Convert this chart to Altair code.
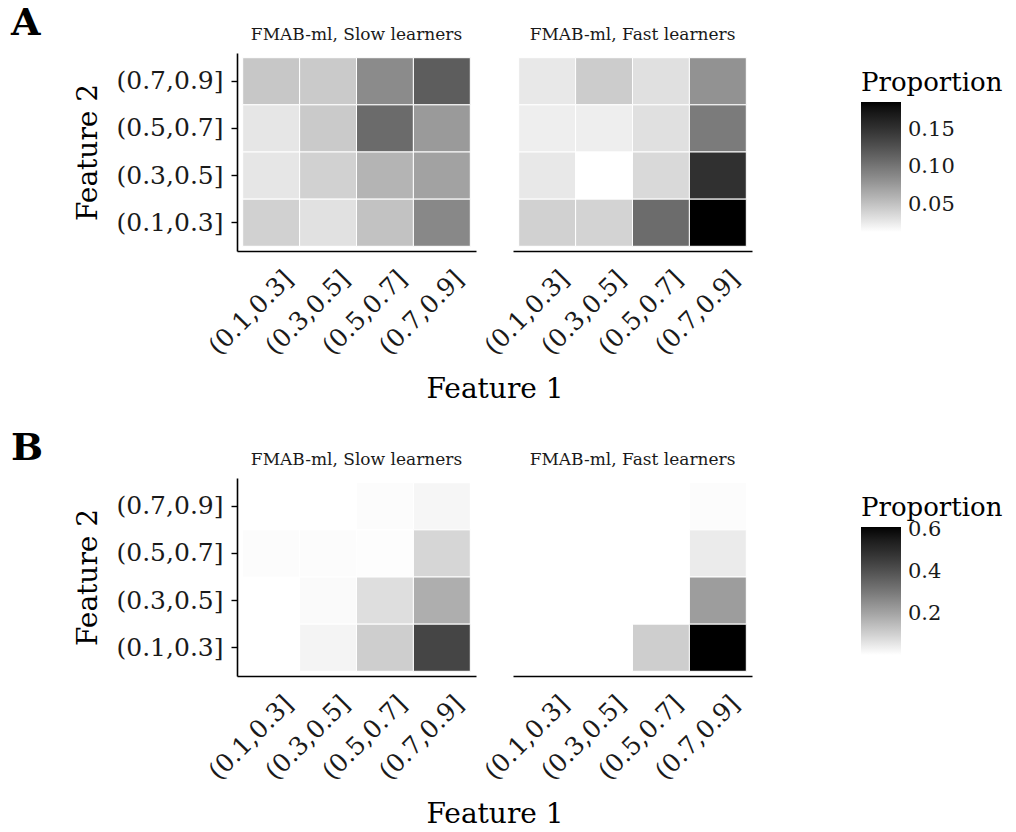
import altair as alt
import pandas as pd

FONT = "DejaVu Serif"

bins = ["(0.1,0.3]", "(0.3,0.5]", "(0.5,0.7]", "(0.7,0.9]"]
bins_top_down = ["(0.7,0.9]", "(0.5,0.7]", "(0.3,0.5]", "(0.1,0.3]"]
conditions = ["FMAB-ml, Slow learners", "FMAB-ml, Fast learners"]

# rows: Feature 2 from (0.7,0.9] (top) down to (0.1,0.3]; columns: Feature 1 bins left->right
a_slow = [
    [0.048, 0.046, 0.087, 0.119],
    [0.029, 0.046, 0.109, 0.077],
    [0.029, 0.042, 0.060, 0.072],
    [0.042, 0.032, 0.051, 0.089],
]
a_fast = [
    [0.028, 0.045, 0.033, 0.082],
    [0.024, 0.024, 0.033, 0.098],
    [0.028, 0.014, 0.037, 0.153],
    [0.042, 0.041, 0.108, 0.187],
]
b_slow = [
    [None, None, 0.011, 0.024],
    [0.011, 0.011, 0.009, 0.092],
    [None, 0.015, 0.075, 0.180],
    [None, 0.028, 0.109, 0.435],
]
b_fast = [
    [None, None, None, 0.011],
    [None, None, None, 0.047],
    [None, None, None, 0.219],
    [None, None, 0.109, 0.612],
]

a_domain = [0.014, 0.187]
b_domain = [0.005, 0.612]
a_ticks = [0.05, 0.10, 0.15]
b_ticks = [0.2, 0.4, 0.6]


def to_df(slow, fast):
    recs = []
    for cond, grid in zip(conditions, [slow, fast]):
        for i, f2 in enumerate(bins_top_down):
            for j, f1 in enumerate(bins):
                v = grid[i][j]
                if v is not None:
                    recs.append({"cond": cond, "f1": f1, "f2": f2, "p": v})
    return pd.DataFrame(recs)


def row_chart(df, label, domain, ticks, fmt, glen):
    base = alt.Chart(df).mark_rect(stroke="white", strokeWidth=1).encode(
        x=alt.X(
            "f1:N",
            scale=alt.Scale(domain=bins, paddingInner=0, paddingOuter=0.1),
            axis=alt.Axis(
                title=None, labelAngle=-45, labelAlign="right", labelBaseline="top",
                ticks=False, labelPadding=15, labelOffset=9, labelFontSize=25,
                domainColor="black", domainWidth=1.6, labelColor="#1a1a1a",
                labelFont=FONT,
            ),
        ),
        y=alt.Y(
            "f2:N",
            scale=alt.Scale(domain=bins_top_down, paddingInner=0, paddingOuter=0.1),
            axis=alt.Axis(
                title="Feature 2", titleFontSize=28, titleFontWeight="normal",
                titleFont=FONT, titlePadding=14, labelFontSize=25, labelFont=FONT,
                labelColor="#1a1a1a", tickSize=6, tickColor="black", tickWidth=1.4,
                domainColor="black", domainWidth=1.6, labelPadding=8,
            ),
        ),
        color=alt.Color(
            "p:Q",
            scale=alt.Scale(domain=domain, range=["#ffffff", "#000000"], interpolate="lab"),
            legend=alt.Legend(
                title="Proportion", titleFontSize=26, titleFontWeight="normal",
                titleFont=FONT, titleColor="black", labelFontSize=21, labelFont=FONT,
                labelColor="#1a1a1a", values=ticks, format=fmt, gradientLength=glen,
                gradientThickness=40, gradientStrokeWidth=0, orient="none",
                legendX=624, legendY=17, titlePadding=6, labelOffset=7,
            ),
        ),
    ).properties(width=239, height=198)
    return base.facet(
        column=alt.Column(
            "cond:N",
            sort=conditions,
            header=alt.Header(
                title="Feature 1", titleOrient="bottom", labelOrient="top",
                titleFontSize=28, titleFontWeight="normal", titleFont=FONT,
                titleColor="black", titlePadding=6,
                labelFontSize=17, labelFont=FONT, labelColor="#1a1a1a",
                labelPadding=9,
            ),
        ),
        spacing=37,
    ).properties(
        title=alt.TitleParams(
            text=label, anchor="start", fontSize=38, fontWeight="bold",
            font=FONT, color="black", dx=-63, dy=21,
        )
    )


rowA = row_chart(to_df(a_slow, a_fast), "A", a_domain, a_ticks, ".2f", 130)
rowB = row_chart(to_df(b_slow, b_fast), "B", b_domain, b_ticks, ".1f", 128)

chart = alt.vconcat(rowA, rowB, spacing=26).resolve_scale(
    color="independent"
).configure_view(stroke=None).properties(
    padding={"left": 11, "top": 5, "right": 5, "bottom": 5}
)

chart.save("out.html", embed_options={"renderer": "svg", "actions": False})
